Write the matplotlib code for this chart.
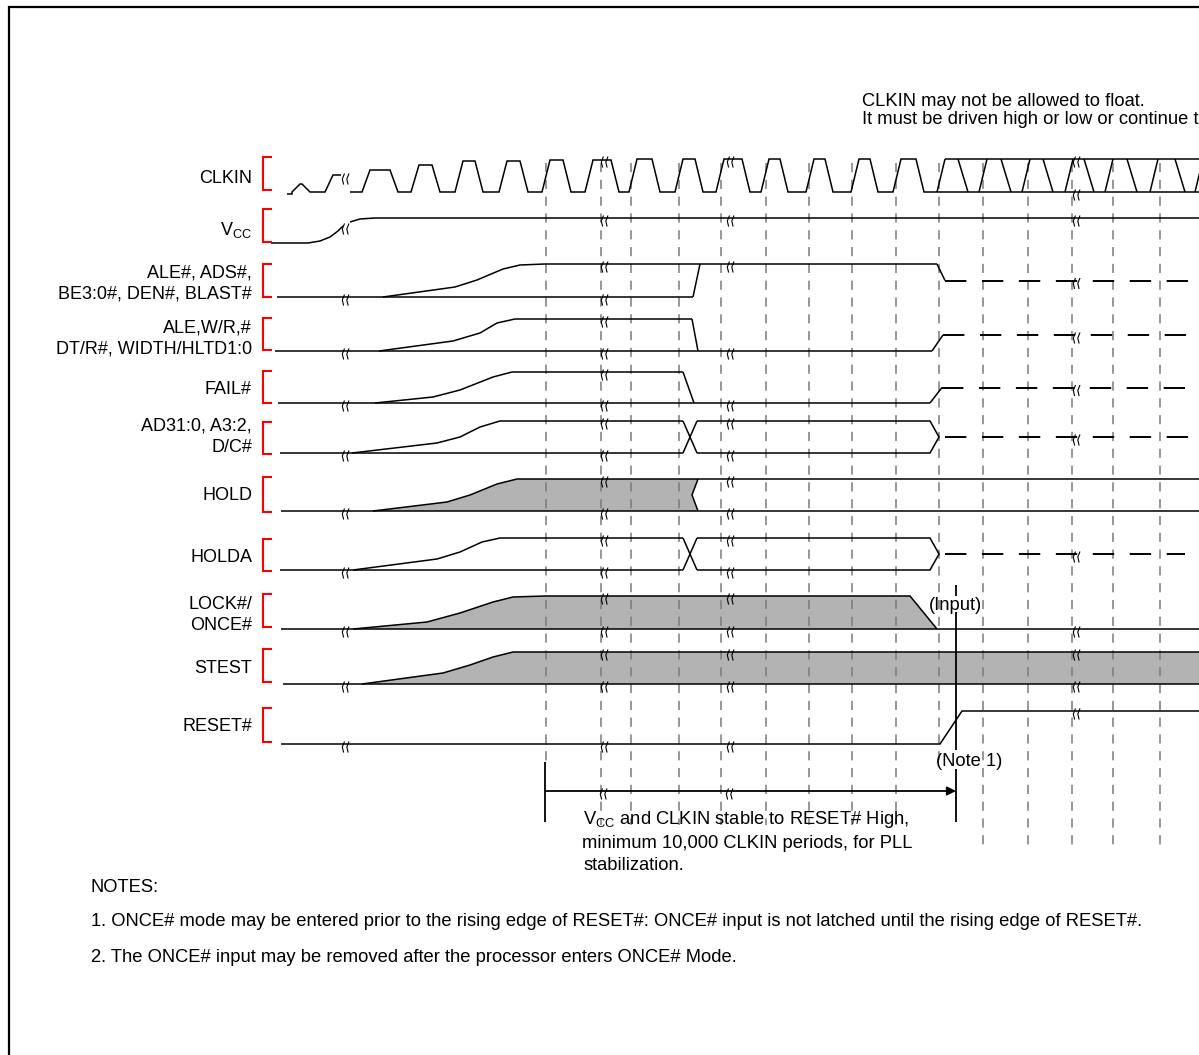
import matplotlib.pyplot as plt

plt.rcParams['font.family'] = ['Liberation Sans', 'DejaVu Sans']
plt.rcParams['mathtext.fontset'] = 'custom'
plt.rcParams['mathtext.rm'] = 'Liberation Sans'
plt.rcParams['mathtext.it'] = 'Liberation Sans:italic'
plt.rcParams['mathtext.bf'] = 'Liberation Sans:bold'

# signal rows (drawing units = pixels of the page, y grows downwards)
names = ["CLKIN", r"V$_{\mathrm{CC}}$", "ALE#, ADS#,\nBE3:0#, DEN#, BLAST#",
         "ALE,W/R,#\nDT/R#, WIDTH/HLTD1:0", "FAIL#", "AD31:0, A3:2,\nD/C#",
         "HOLD", "HOLDA", "LOCK#/\nONCE#", "STEST", "RESET#"]
label_y = [177, 229, 282, 337, 388, 435, 494, 556, 613, 667, 725]
bracket_top = [157, 209, 264, 318, 371, 422, 477, 539, 594, 649, 708]
bracket_bot = [190, 242, 297, 350, 403, 454, 512, 571, 627, 682, 742]
y_high = [159, 218, 264, 319, 372, 421, 479, 538, 596, 652, 711]
y_low = [192, 243, 297, 351, 403, 453, 511, 570, 629, 684, 744]
line_start = [287, 271, 277, 275, 278, 280, 281, 280, 281, 283, 281]

# CLKIN pulses: rising / falling edge centres and pulse top level
clk_rise = [296, 329, 366, 415, 459, 503, 546, 589, 633, 679, 720, 765, 810, 855, 897]
clk_fall = [306, None, 394, 436, 479, 524, 567, 615, 656, 699, 746, 784, 829, 874, 920]
clk_top = [184, 175, 170, 165, 161, 161, 160, 160, 159, 159, 159, 159, 159, 159, 159]
# "may toggle" band after RESET#
band_rise = [941, 983, 1026, 1069, 1109, 1154, 1199]
band_fall = [963, 1006, 1048, 1089, 1132, 1180]

# VCC power-up ramp
vcc_x = [271, 308, 320, 330, 338, 343]
vcc_y = [243, 243, 241, 237, 231, 226]
vcc_x2 = [350, 360, 375]
vcc_y2 = [222, 219, 218]

# power-up ramps of the other signals
ramp_x = {
    2: [383, 455, 477, 503, 520, 545],
    3: [379, 453, 480, 497, 515, 545],
    4: [375, 433, 460, 493, 512, 545],
    5: [352, 437, 460, 480, 500, 545],
    6: [373, 447, 470, 497, 517, 545],
    7: [353, 437, 460, 482, 500, 545],
    8: [353, 427, 460, 493, 513, 545],
    9: [362, 443, 470, 493, 513, 545],
}
ramp_y = {
    2: [297, 287, 280, 269, 265, 264],
    3: [351, 341, 333, 323, 319, 319],
    4: [403, 397, 390, 377, 372, 372],
    5: [453, 443, 437, 427, 421, 421],
    6: [511, 502, 495, 484, 479, 479],
    7: [570, 559, 552, 542, 538, 538],
    8: [629, 622, 613, 602, 597, 596],
    9: [684, 673, 665, 657, 652, 652],
}

# break ("≈") columns and which levels carry a mark in each row
break_x = [345, 604, 730, 1076]
break_levels = [
    ["c", "h", "h", "hl"], ["c", "h", "h", "h"], ["l", "hl", "h", "m"],
    ["l", "hl", "l", "m"], ["l", "hl", "l", "m"], ["l", "hl", "hl", "m"],
    ["l", "hl", "hl", ""], ["l", "hl", "hl", "m"], ["l", "hl", "hl", "l"],
    ["l", "hl", "hl", "hl"], ["l", "l", "l", "h"],
]
break_curve_y = {0: 176, 1: 226}

# dashed clock reference lines
grid_x = [546, 601, 631, 679, 721, 766, 809, 852, 896, 939, 983, 1028, 1072, 1113, 1160]
grid_bot = [762, 825, 825, 825, 825, 825, 825, 825, 825, 765, 848, 848, 848, 848, 848]
grid_top = 163

notes = ["NOTES:",
         "1. ONCE# mode may be entered prior to the rising edge of RESET#: "
         "ONCE# input is not latched until the rising edge of RESET#.",
         "2. The ONCE# input may be removed after the processor enters ONCE# Mode."]
notes_y = [886, 920, 956]

LW = 1.1
FS = 13.2
GRAY = '#b3b3b3'

fig = plt.figure(figsize=(11.99, 10.55), dpi=100)
ax = fig.add_axes([0, 0, 1, 1])
ax.set_xlim(0, 1199)
ax.set_ylim(1055, 0)
ax.axis('off')


def seg(xs, ys, lw=LW):
    ax.plot(xs, ys, color='black', lw=lw, zorder=3, solid_joinstyle='miter',
            solid_capstyle='butt')


def dash(x0, x1, y):
    ax.plot([x0, x1], [y, y], color='black', lw=1.4, zorder=3,
            linestyle=(0, (11, 8)))


def brk(x, y):
    for dx in (0, 4.5):
        ax.plot([x + dx + 1.3, x + dx - 0.7, x + dx + 0.5], [y - 2, y + 3, y + 8],
                color='black', lw=0.8, zorder=4)


def note(x, yc, txt, **kw):
    # yc = visual centre of the capitals
    ax.text(x, yc + 6.5, txt, fontsize=FS, va='baseline', zorder=5, **kw)


# page border
ax.plot([9, 9, 1199], [1055, 7, 7], color='black', lw=1.6, zorder=5,
        solid_joinstyle='miter')

# labels and red brackets
for i, name in enumerate(names):
    lines = name.split("\n")
    n = len(lines)
    for j, txt in enumerate(lines):
        yc = label_y[i] + (j - (n - 1) / 2) * 21
        ax.text(252, yc + 6.3, txt, ha='right', va='baseline', fontsize=13, zorder=5)
    ax.plot([271, 263, 263, 271], [bracket_top[i], bracket_top[i], bracket_bot[i], bracket_bot[i]],
            color='red', lw=1.5, zorder=5, solid_joinstyle='miter')

# dashed clock reference lines
for gx, gb in zip(grid_x, grid_bot):
    ax.plot([gx, gx], [grid_top, gb], color='#7a7a7a', lw=1.1, zorder=2,
            linestyle=(0, (6, 5)))

# CLKIN
hi, lo = y_high[0], y_low[0]
xs, ys = [line_start[0]], [lo + 2]
xs.append(clk_rise[0] - 4); ys.append(lo + 2)
for r, f, t in zip(clk_rise, clk_fall, clk_top):
    xs += [r - 4, r + 4]
    ys += [lo, t]
    if f is None:
        xs.append(341); ys.append(t)
        seg(xs, ys)
        xs, ys = [350], [lo]
    else:
        xs += [f - 4, f + 4]
        ys += [t, lo]
xs.append(1199); ys.append(lo)
seg(xs, ys)
seg([band_rise[0] + 4, 1199], [hi, hi])
for r in band_rise:
    seg([r - 4, r + 4], [lo, hi])
for f in band_fall:
    seg([f - 5, f + 5], [hi, lo])

# VCC
seg(vcc_x, vcc_y)
seg(vcc_x2 + [1199], vcc_y2 + [y_high[1]])

# ALE#, ADS#, ...
i = 2; hi, lo = y_high[i], y_low[i]; mid = (hi + lo) / 2
seg([line_start[i], 693], [lo, lo]); seg(ramp_x[i], ramp_y[i])
seg([545, 937], [hi, hi]); seg([693, 700], [lo, hi]); seg([937, 945], [hi, mid])
dash(945, 1199, mid)

# ALE, W/R, ...
i = 3; hi, lo = y_high[i], y_low[i]; mid = (hi + lo) / 2
seg([line_start[i], 932], [lo, lo]); seg(ramp_x[i], ramp_y[i])
seg([545, 692], [hi, hi]); seg([692, 698], [hi, lo]); seg([932, 943], [lo, mid])
dash(943, 1199, mid)

# FAIL#
i = 4; hi, lo = y_high[i], y_low[i]; mid = (hi + lo) / 2
seg([line_start[i], 930], [lo, lo]); seg(ramp_x[i], ramp_y[i])
seg([545, 683], [hi, hi]); seg([683, 694], [hi, lo]); seg([930, 942], [lo, mid])
dash(942, 1199, mid)

# AD31:0 and HOLDA (bus style)
for i, dend in ((5, 1199), (7, 1185)):
    hi, lo = y_high[i], y_low[i]; mid = (hi + lo) / 2
    seg([line_start[i], 683], [lo, lo]); seg(ramp_x[i], ramp_y[i])
    seg([545, 683], [hi, hi])
    seg([683, 697], [hi, lo]); seg([683, 697], [lo, hi])
    seg([697, 930, 939, 930, 697], [hi, hi, mid, lo, lo])
    dash(945, dend, mid)

# HOLD
i = 6; hi, lo = y_high[i], y_low[i]; mid = (hi + lo) / 2
ax.fill(ramp_x[i] + [698, 692, 698, ramp_x[i][0]], ramp_y[i] + [hi, mid, lo, lo],
        color=GRAY, lw=0, zorder=1)
seg([line_start[i], 1199], [lo, lo]); seg(ramp_x[i], ramp_y[i])
seg([545, 1199], [hi, hi]); seg([698, 692, 698], [hi, mid, lo])

# LOCK#/ONCE#
i = 8; hi, lo = y_high[i], y_low[i]
ax.fill(ramp_x[i] + [910, 937], ramp_y[i] + [hi, lo], color=GRAY, lw=0, zorder=1)
seg([line_start[i], 1199], [lo, lo]); seg(ramp_x[i], ramp_y[i])
seg([545, 910, 937], [hi, hi, lo])

# STEST
i = 9; hi, lo = y_high[i], y_low[i]
ax.fill(ramp_x[i] + [1199, 1199], ramp_y[i] + [hi, lo], color=GRAY, lw=0, zorder=1)
seg([line_start[i], 1199], [lo, lo]); seg(ramp_x[i], ramp_y[i])
seg([545, 1199], [hi, hi])

# RESET#
i = 10; hi, lo = y_high[i], y_low[i]
seg([line_start[i], 940, 962, 1199], [lo, lo, hi, hi])

# break marks
for i, levels in enumerate(break_levels):
    hi, lo = y_high[i], y_low[i]
    for bx, code in zip(break_x, levels):
        for c in code:
            y = {'h': hi, 'l': lo, 'm': (hi + lo) / 2}.get(c, break_curve_y.get(i))
            brk(bx - 2, y)

# timing arrow
ax.annotate('', xy=(956, 791), xytext=(545, 791),
            arrowprops=dict(arrowstyle='-|>', color='black', lw=1.3,
                            mutation_scale=13, shrinkA=0, shrinkB=0), zorder=3)
brk(break_x[1] - 3, 791)
brk(break_x[2] - 3, 791)
seg([545, 545], [762, 822], lw=1.3)
seg([956, 956], [585, 596], lw=1.3)
seg([956, 956], [612, 750], lw=1.3)
seg([956, 956], [769, 822], lw=1.3)

# annotations (the second line runs off the page edge, as in the source)
note(862, 99, "CLKIN may not be allowed to float.")
note(862, 118, "It must be driven high or low or continue to toggle.")
note(956, 603, "(Input)", ha='center')
note(936, 759, "(Note 1)")
note(583, 818, r"V$_{\mathrm{CC}}$ and CLKIN stable to RESET# High,")
note(582, 842, "minimum 10,000 CLKIN periods, for PLL")
note(584, 864, "stabilization.")
for txt, ny in zip(notes, notes_y):
    note(91, ny, txt)

fig.savefig("out.png", dpi=100)
